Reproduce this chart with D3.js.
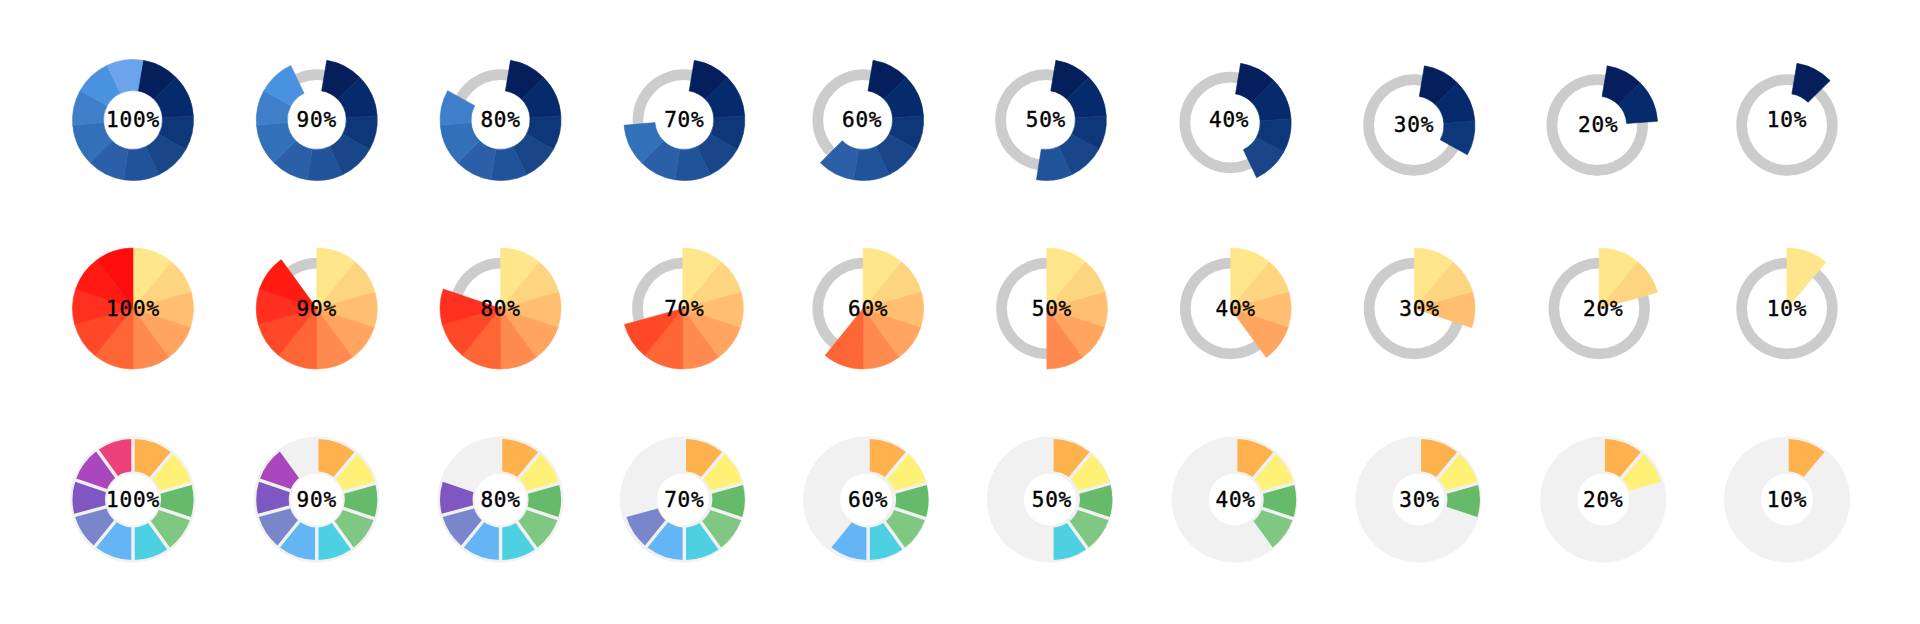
<!DOCTYPE html>
<html>
<head>
<meta charset="utf-8">
<script src="https://cdn.jsdelivr.net/npm/d3@7"></script>
<style>
  html, body { margin: 0; background: #fff; }
  svg { display: block; }
  text { font-family: "DejaVu Sans Mono", monospace; font-size: 21px; letter-spacing: 0.8px; fill: #000; stroke: #000; stroke-width: 0.4px; }
</style>
</head>
<body>
<div id="chart"></div>
<script>
// chart values
const labels = ["100%", "90%", "80%", "70%", "60%", "50%", "40%", "30%", "20%", "10%"];
const sliceCounts = [10, 9, 8, 7, 6, 5, 4, 3, 2, 1];
const rowNames = ["blue", "warm", "rainbow"];

// where each slice starts and ends, in degrees clockwise from 12 o'clock
const blueEdges = [9.5, 45.5, 86, 119, 154.6, 189, 225, 265, 299, 334.5, 369.5];
const warmEdges = [0, 40, 74.5, 108.5, 144, 180, 219, 254.7, 288.7, 324, 360];
const rainbowEdges = [0, 40, 74.5, 108.5, 144, 180, 219, 254.7, 288.7, 324, 360];

// colours
const blueColors = ["#041f5c", "#062b6d", "#0d3778", "#184688", "#205399", "#2b60a9", "#3270b9", "#3f7ec8", "#4a92e0", "#6ba3ec"];
const warmColors = ["#ffe68a", "#fdd47f", "#ffbe70", "#ffa560", "#ff8a4f", "#ff6636", "#ff4828", "#ff3020", "#ff1a12", "#ff0d0d"];
const rainbowColors = ["#ffb14e", "#fff176", "#66bb6a", "#81c784", "#4dd0e1", "#64b5f6", "#7986cb", "#7e57c2", "#ab47bc", "#ec407a"];

// the charts do not sit exactly on the grid, per column nudges in px
const layout = {
  blue: {
    colors: blueColors, edges: blueEdges,
    inner: 29.5, outer: 60.5, pad: 0,
    track: { inner: 40, outer: 50.7, color: "#cccccc" },
    dx: [0, 0, 0, 0, -5, -6, -5, -5, -6, 0],
    trackDx: [0, 0, 0, -1, -5, -6, -5.5, -5.5, -6, 0],
    textDx: [0, 0, 0, 0, -6, -6, -6.5, -5.5, -5, 0],
    dy: [0, 0, 0, 0, 0, 0, 3, 5.5, 5.5, 3],
    trackDy: [0, 0, 0, 0, 0, 0, 2.5, 5, 5, 5],
    textDy: [0, 0, 0, 0, 0, 0, 0, 5, 5, 0]
  },
  warm: {
    colors: warmColors, edges: warmEdges,
    inner: 0, outer: 60.5, pad: 0,
    track: { inner: 40, outer: 50.7, color: "#cccccc" },
    dx: [0, 0, 0, -1.5, -5, -5, -5, -5, -4, 0],
    trackDx: [0, 0, 0, -1.5, -5, -5, -5, -5, -4, 0],
    textDx: [0, 0, 0, 0, 0, 0, 0, 0, 0, 0],
    dy: [0, 0, 0, 0, 0, 0, 0, 0, 0, 0],
    trackDy: [0, 0, 0, 0, 0, 0, 0, 0, 0, 0],
    textDy: [0, 0, 0, 0, 0, 0, 0, 0, 0, 0]
  },
  rainbow: {
    colors: rainbowColors, edges: rainbowEdges,
    inner: 28, outer: 60.5, pad: 3.4,
    track: { inner: 26, outer: 63, color: "#f1f1f1" },
    dx: [0, 0, 0, 0, 0, 0, 0, 0, 0, 0],
    trackDx: [0, 0, 0, -1.5, -2, -2, -1, -1, 0, 0],
    textDx: [0, 0, 0, 0, 0, 0, 0, 0, 0, 0],
    dy: [0, 0, 0, 0, 0, 0, 0, 0, 0, 0],
    trackDy: [0, 0, 0, 0, 0, 0, 0, 0, 0, 0],
    textDy: [0, 0, 0, 0, 0, 0, 0, 0, 0, 0]
  }
};

const width = 1920;
const height = 624;

const svg = d3.select("#chart")
  .append("svg")
  .attr("width", width)
  .attr("height", height);

const x = d3.scalePoint().domain(labels).range([133, 1787]);
const y = d3.scaleOrdinal().domain(rowNames).range([120, 308.5, 499.5]);
const angle = d3.scaleLinear().domain([0, 360]).range([0, 2 * Math.PI]);

rowNames.forEach(rowName => {
  const row = layout[rowName];
  const sliceArc = d3.arc()
    .innerRadius(row.inner)
    .outerRadius(row.outer)
    .padRadius(row.outer)
    .padAngle(row.pad / row.outer);
  const trackArc = d3.arc()
    .innerRadius(row.track.inner)
    .outerRadius(row.track.outer)
    .startAngle(0)
    .endAngle(2 * Math.PI);

  labels.forEach((label, col) => {
    const cx = x(label);
    const cy = y(rowName);

    svg.append("path")
      .attr("transform", `translate(${cx + row.trackDx[col]}, ${cy + row.trackDy[col]})`)
      .attr("fill", row.track.color)
      .attr("d", trackArc());

    const slices = d3.range(sliceCounts[col]);

    svg.append("g")
      .attr("transform", `translate(${cx + row.dx[col]}, ${cy + row.dy[col]})`)
      .selectAll("path")
      .data(slices)
      .join("path")
      .attr("fill", i => row.colors[i])
      // same colour stroke closes the hairline seams between touching slices
      .attr("stroke", i => row.pad ? "none" : row.colors[i])
      .attr("stroke-width", 0.6)
      .attr("d", i => sliceArc({
        startAngle: angle(row.edges[i]),
        endAngle: angle(row.edges[i + 1])
      }));

    svg.append("text")
      .attr("x", cx + row.textDx[col])
      .attr("y", cy + row.textDy[col])
      .attr("text-anchor", "middle")
      .attr("dominant-baseline", "central")
      .text(label);
  });
});
</script>
</body>
</html>
